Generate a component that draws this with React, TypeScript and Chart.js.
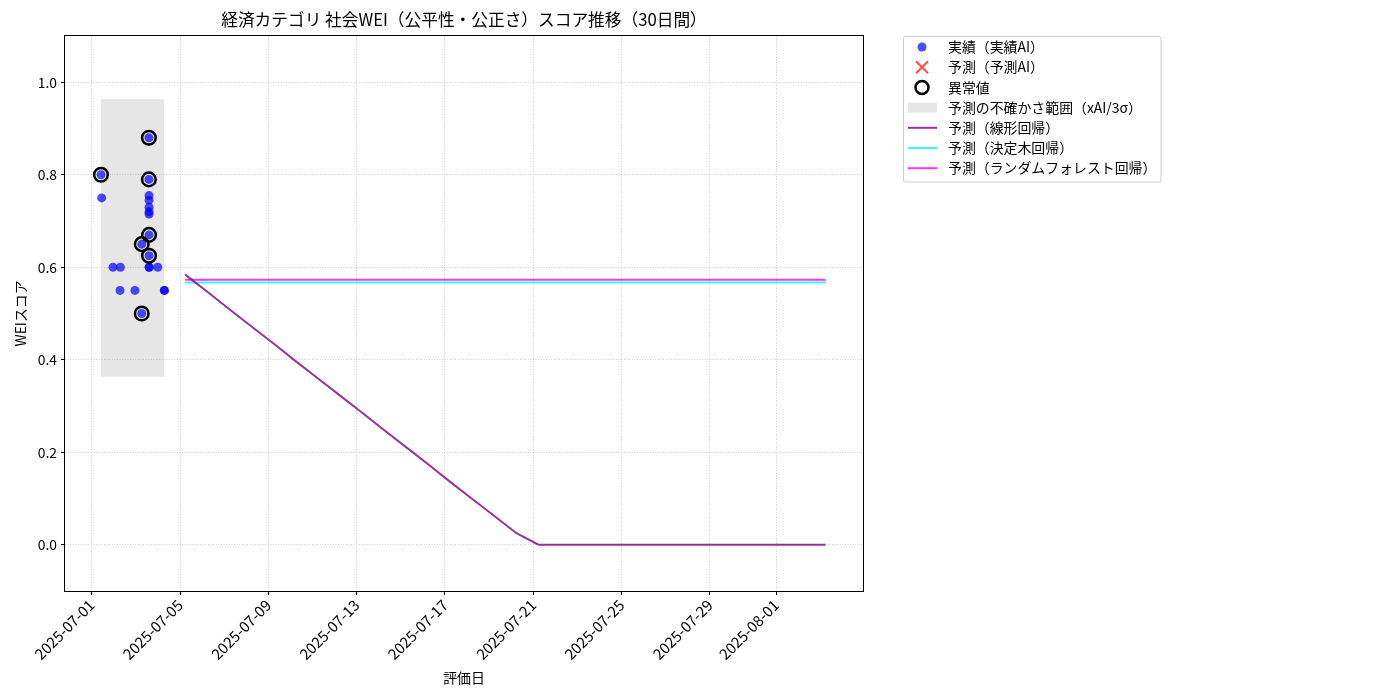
import React, { useEffect, useRef } from "react";
import { Chart, registerables } from "chart.js";

Chart.register(...registerables);

const FONT = '"Noto Sans CJK JP", "Noto Sans", sans-serif';

const TITLE = "経済カテゴリ 社会WEI（公平性・公正さ）スコア推移（30日間）";
const X_LABEL = "評価日";
const Y_LABEL = "WEIスコア";

// actual (実績AI) observations
const actualDates = [
  "2025-07-01T10:05", "2025-07-01T10:50", "2025-07-01T23:10", "2025-07-02T07:10",
  "2025-07-02T06:50", "2025-07-02T23:00", "2025-07-03T06:25", "2025-07-03T06:25",
  "2025-07-03T14:10", "2025-07-03T14:10", "2025-07-03T14:20", "2025-07-03T14:20",
  "2025-07-03T14:20", "2025-07-03T14:20", "2025-07-03T14:20", "2025-07-03T14:20",
  "2025-07-03T14:20", "2025-07-03T14:20", "2025-07-03T14:30", "2025-07-03T23:45",
  "2025-07-04T07:00", "2025-07-04T07:00",
];
const actualScores = [
  0.80, 0.75, 0.60, 0.60,
  0.55, 0.55, 0.65, 0.50,
  0.88, 0.79, 0.755, 0.745,
  0.73, 0.72, 0.715, 0.67,
  0.625, 0.60, 0.60, 0.60,
  0.55, 0.55,
];

// anomalies (異常値)
const anomalyDates = [
  "2025-07-01T10:05", "2025-07-03T06:25", "2025-07-03T06:25", "2025-07-03T14:10",
  "2025-07-03T14:10", "2025-07-03T14:20", "2025-07-03T14:20",
];
const anomalyScores = [0.80, 0.65, 0.50, 0.88, 0.79, 0.67, 0.625];

// uncertainty band (xAI / 3σ)
const bandLow = 0.363;
const bandHigh = 0.963;

// predictions
const predDates = [
  "2025-07-05T05:40", "2025-07-06T05:40", "2025-07-07T05:40", "2025-07-08T05:40",
  "2025-07-09T05:40", "2025-07-10T05:40", "2025-07-11T05:40", "2025-07-12T05:40",
  "2025-07-13T05:40", "2025-07-14T05:40", "2025-07-15T05:40", "2025-07-16T05:40",
  "2025-07-17T05:40", "2025-07-18T05:40", "2025-07-19T05:40", "2025-07-20T05:40",
  "2025-07-21T05:40", "2025-07-22T05:40", "2025-07-23T05:40", "2025-07-24T05:40",
  "2025-07-25T05:40", "2025-07-26T05:40", "2025-07-27T05:40", "2025-07-28T05:40",
  "2025-07-29T05:40", "2025-07-30T05:40", "2025-07-31T05:40", "2025-08-01T05:40",
  "2025-08-02T05:40", "2025-08-03T05:40",
];
const linearPred = [
  0.584, 0.547, 0.509, 0.472, 0.435, 0.397, 0.360, 0.323, 0.286, 0.248,
  0.211, 0.174, 0.136, 0.099, 0.062, 0.025, 0, 0, 0, 0,
  0, 0, 0, 0, 0, 0, 0, 0, 0, 0,
];
const treePred = [
  0.567, 0.567, 0.567, 0.567, 0.567, 0.567, 0.567, 0.567, 0.567, 0.567,
  0.567, 0.567, 0.567, 0.567, 0.567, 0.567, 0.567, 0.567, 0.567, 0.567,
  0.567, 0.567, 0.567, 0.567, 0.567, 0.567, 0.567, 0.567, 0.567, 0.567,
];
const forestPred = [
  0.573, 0.573, 0.573, 0.573, 0.573, 0.573, 0.573, 0.573, 0.573, 0.573,
  0.573, 0.573, 0.573, 0.573, 0.573, 0.573, 0.573, 0.573, 0.573, 0.573,
  0.573, 0.573, 0.573, 0.573, 0.573, 0.573, 0.573, 0.573, 0.573, 0.573,
];

const xTickDates = [
  "2025-07-01", "2025-07-05", "2025-07-09", "2025-07-13", "2025-07-17",
  "2025-07-21", "2025-07-25", "2025-07-29", "2025-08-01",
];
const yTicks = [0.0, 0.2, 0.4, 0.6, 0.8, 1.0];
const X_MIN = "2025-06-29T19:00";
const X_MAX = "2025-08-04T22:20";
const Y_MIN = -0.1;
const Y_MAX = 1.1;

const LABELS = {
  actual: "実績（実績AI）",
  predAI: "予測（予測AI）",
  anomaly: "異常値",
  band: "予測の不確かさ範囲（xAI/3σ）",
  linear: "予測（線形回帰）",
  tree: "予測（決定木回帰）",
  forest: "予測（ランダムフォレスト回帰）",
};

const COLORS = {
  actual: "rgba(0,0,255,0.7)",
  predAI: "rgba(255,0,0,0.7)",
  anomaly: "#000000",
  band: "rgba(128,128,128,0.2)",
  linear: "rgba(128,0,128,0.8)",
  tree: "rgba(0,255,255,0.8)",
  forest: "rgba(255,0,255,0.8)",
};

const ts = (s: string) => Date.parse(s.length === 10 ? s + "T00:00:00Z" : s + ":00Z");
const pts = (dates: string[], vals: number[]) => dates.map((d, i) => ({ x: ts(d), y: vals[i] }));

const decorPlugin = {
  id: "decor",
  afterDraw(chart: any) {
    const { ctx, chartArea: a } = chart;
    ctx.save();
    // frame
    ctx.strokeStyle = "#000";
    ctx.lineWidth = 1;
    const l = Math.round(a.left) - 0.5;
    const t = Math.round(a.top) - 0.5;
    const r = Math.round(a.right) + 0.5;
    const b = Math.round(a.bottom) + 0.5;
    ctx.strokeRect(l, t, r - l, b - t);

    // title
    ctx.fillStyle = "#000";
    ctx.font = `16.7px ${FONT}`;
    ctx.textAlign = "center";
    ctx.textBaseline = "middle";
    ctx.fillText(TITLE, (a.left + a.right) / 2, 20);

    // legend
    const bx = 903.5, by = 36.5, bw = 257.5, bh = 145.5;
    ctx.beginPath();
    ctx.roundRect(bx, by, bw, bh, 2);
    ctx.fillStyle = "rgba(255,255,255,0.8)";
    ctx.fill();
    ctx.strokeStyle = "#cccccc";
    ctx.lineWidth = 1;
    ctx.stroke();

    const rowY = (i: number) => 47 + i * 20.2;
    const mx = 922, lx0 = 908, lx1 = 937, tx = 948;
    const entries = [
      { kind: "dot", label: LABELS.actual, color: COLORS.actual },
      { kind: "cross", label: LABELS.predAI, color: COLORS.predAI },
      { kind: "ring", label: LABELS.anomaly, color: COLORS.anomaly },
      { kind: "patch", label: LABELS.band, color: COLORS.band },
      { kind: "line", label: LABELS.linear, color: COLORS.linear },
      { kind: "line", label: LABELS.tree, color: COLORS.tree },
      { kind: "line", label: LABELS.forest, color: COLORS.forest },
    ];
    entries.forEach((e, i) => {
      const y = rowY(i);
      ctx.save();
      if (e.kind === "dot") {
        ctx.beginPath();
        ctx.arc(mx, y, 4.5, 0, Math.PI * 2);
        ctx.fillStyle = e.color;
        ctx.fill();
      } else if (e.kind === "cross") {
        ctx.strokeStyle = e.color;
        ctx.lineWidth = 2;
        ctx.beginPath();
        ctx.moveTo(mx - 6, y - 6);
        ctx.lineTo(mx + 6, y + 6);
        ctx.moveTo(mx + 6, y - 6);
        ctx.lineTo(mx - 6, y + 6);
        ctx.stroke();
      } else if (e.kind === "ring") {
        ctx.strokeStyle = e.color;
        ctx.lineWidth = 2.5;
        ctx.beginPath();
        ctx.arc(mx, y, 6.5, 0, Math.PI * 2);
        ctx.stroke();
      } else if (e.kind === "patch") {
        ctx.fillStyle = e.color;
        ctx.fillRect(lx0, y - 5, lx1 - lx0, 10);
      } else {
        ctx.strokeStyle = e.color;
        ctx.lineWidth = 2;
        ctx.beginPath();
        ctx.moveTo(lx0, y);
        ctx.lineTo(lx1, y);
        ctx.stroke();
      }
      ctx.restore();
      ctx.fillStyle = "#000";
      ctx.font = `13.9px ${FONT}`;
      ctx.textAlign = "left";
      ctx.textBaseline = "middle";
      ctx.fillText(e.label, tx, y);
    });
    ctx.restore();
  },
};

export default function App() {
  const ref = useRef<HTMLCanvasElement | null>(null);

  useEffect(() => {
    if (!ref.current) return;
    Chart.defaults.font.family = FONT;
    const allActual = actualDates.map(ts);
    const bandStart = Math.min(...allActual);
    const bandEnd = Math.max(...allActual);

    const gridCommon = {
      color: "rgba(176,176,176,0.8)",
      lineWidth: 0.8,
      drawTicks: true,
      tickLength: 4,
      tickColor: "#000",
      tickWidth: 1,
      tickBorderDash: [],
    };
    const borderCommon = { display: false, dash: [1, 1.6] };

    const chart = new Chart(ref.current, {
      type: "scatter",
      data: {
        datasets: [
          {
            type: "line",
            label: LABELS.band,
            data: [{ x: bandStart, y: bandHigh }, { x: bandEnd, y: bandHigh }],
            borderWidth: 0,
            pointRadius: 0,
            backgroundColor: COLORS.band,
            fill: "+1",
            order: 20,
          },
          {
            type: "line",
            label: "band-low",
            data: [{ x: bandStart, y: bandLow }, { x: bandEnd, y: bandLow }],
            borderWidth: 0,
            pointRadius: 0,
            fill: false,
            order: 21,
          },
          {
            type: "line",
            label: LABELS.tree,
            data: pts(predDates, treePred),
            borderColor: COLORS.tree,
            borderWidth: 2,
            pointRadius: 0,
            fill: false,
            order: 9,
          },
          {
            type: "line",
            label: LABELS.forest,
            data: pts(predDates, forestPred),
            borderColor: COLORS.forest,
            borderWidth: 2,
            pointRadius: 0,
            fill: false,
            order: 8,
          },
          {
            type: "line",
            label: LABELS.linear,
            data: pts(predDates, linearPred),
            borderColor: COLORS.linear,
            borderWidth: 2,
            pointRadius: 0,
            fill: false,
            order: 7,
          },
          {
            type: "scatter",
            label: LABELS.actual,
            data: pts(actualDates, actualScores),
            backgroundColor: COLORS.actual,
            borderWidth: 0,
            pointRadius: 4.5,
            order: 5,
          },
          {
            type: "scatter",
            label: LABELS.predAI,
            data: [],
            pointStyle: "cross",
            borderColor: COLORS.predAI,
            order: 4,
          },
          {
            type: "scatter",
            label: LABELS.anomaly,
            data: pts(anomalyDates, anomalyScores),
            backgroundColor: "rgba(0,0,0,0)",
            borderColor: COLORS.anomaly,
            borderWidth: 2.5,
            pointRadius: 6.8,
            order: 1,
          },
        ] as any,
      },
      options: {
        animation: false,
        responsive: false,
        devicePixelRatio: 1,
        layout: { padding: { left: 0, top: 36, right: 537, bottom: 0 } },
        plugins: {
          legend: { display: false },
          title: { display: false },
          tooltip: { enabled: false },
        },
        scales: {
          x: {
            type: "linear",
            min: ts(X_MIN),
            max: ts(X_MAX),
            border: borderCommon as any,
            grid: gridCommon as any,
            afterBuildTicks: (s: any) => {
              s.ticks = xTickDates.map((d) => ({ value: ts(d) }));
            },
            afterFit: (s: any) => {
              s.height = 109;
            },
            ticks: {
              autoSkip: false,
              maxRotation: 45,
              minRotation: 45,
              padding: 1,
              color: "#000",
              font: { size: 15 },
              callback: (v: any) => new Date(Number(v)).toISOString().slice(0, 10),
            },
            title: {
              display: true,
              text: X_LABEL,
              color: "#000",
              font: { size: 13.9 },
              padding: { top: 0, bottom: 14 },
            },
          },
          y: {
            type: "linear",
            min: Y_MIN,
            max: Y_MAX,
            border: borderCommon as any,
            grid: gridCommon as any,
            afterBuildTicks: (s: any) => {
              s.ticks = yTicks.map((v) => ({ value: v }));
            },
            afterFit: (s: any) => {
              s.width = 65;
            },
            ticks: {
              padding: 4,
              color: "#000",
              font: { size: 13.9 },
              callback: (v: any) => Number(v).toFixed(1),
            },
            title: {
              display: true,
              text: Y_LABEL,
              color: "#000",
              font: { size: 13.9 },
              padding: { top: 12, bottom: 0 },
            },
          },
        },
      },
      plugins: [decorPlugin],
    });
    return () => chart.destroy();
  }, []);

  return (
    <div style={{ position: "fixed", left: 0, top: 0, width: 1400, height: 700, background: "#fff" }}>
      <canvas ref={ref} width={1400} height={700} style={{ width: 1400, height: 700, display: "block" }} />
    </div>
  );
}
